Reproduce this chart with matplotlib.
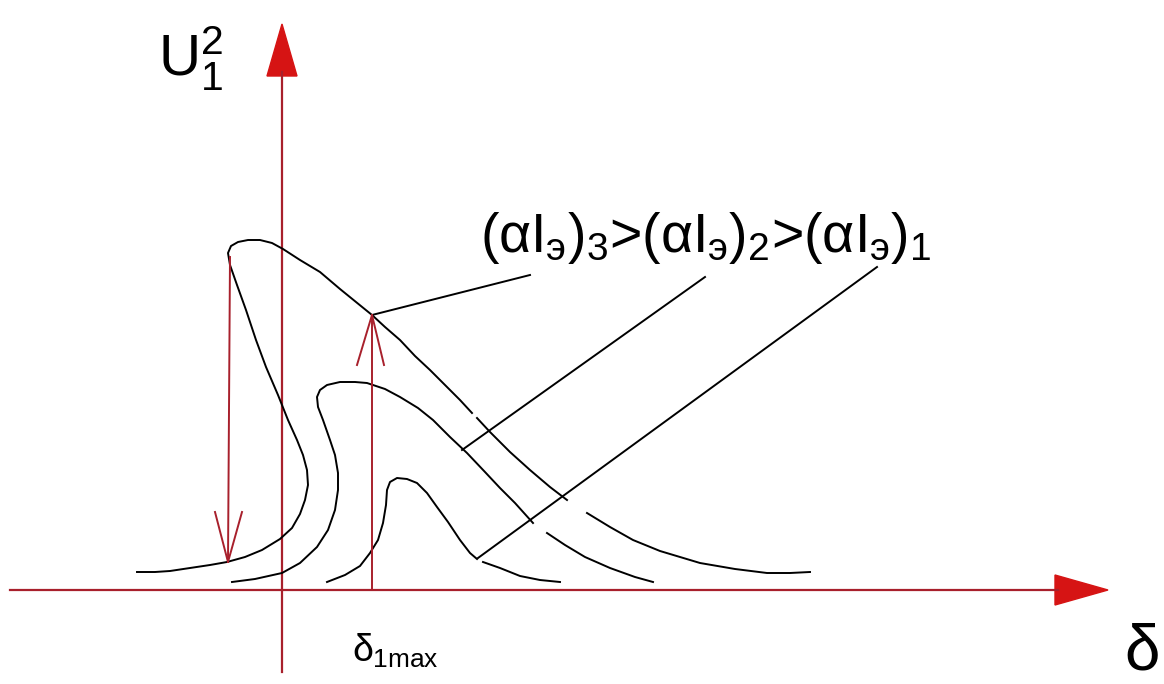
import numpy as np
import matplotlib.pyplot as plt
from matplotlib.patches import Polygon

plt.rcParams['mathtext.fontset'] = 'custom'
plt.rcParams['mathtext.rm'] = 'Liberation Sans'
plt.rcParams['mathtext.it'] = 'Liberation Sans'
plt.rcParams['mathtext.bf'] = 'Liberation Sans:bold'
plt.rcParams['font.family'] = ['Liberation Sans', 'DejaVu Sans']

nan = np.nan

# curves (x, y in picture units, y grows downward)
curve3_x = [137, 155, 170, 190, 210, 227, 245, 262, 280, 292, 300, 305, 308, 307, 303, 297,
            288, 278, 266, 256, 246, 237, 230, 228, 231, 238, 248, 260, 272, 283, 300, 320,
            340, 356, 372, 385, 400, 415, 430, 445, 460, 472, nan, 477, 490, 510, 530, 550,
            567, nan, 587, 610, 633, 660, 700, 735, 767, 790, 810]
curve3_y = [572, 572, 571, 568, 565, 562, 557, 550, 539, 528, 514, 500, 485, 470, 455, 440,
            420, 395, 367, 340, 310, 285, 265, 253, 246, 242, 240, 240, 243, 249, 260, 272,
            289, 302, 315, 327, 340, 356, 370, 385, 400, 413, nan, 418, 432, 452, 470, 487,
            500, nan, 513, 527, 540, 551, 563, 569, 573, 573, 572]

curve2_x = [232, 255, 282, 300, 317, 328, 335, 338, 338, 335, 330, 323, 318, 317, 320, 327,
            340, 355, 367, 385, 400, 418, 433, 450, 467, 485, 500, 515, 533, nan, 547, 565,
            585, 610, 635, 653]
curve2_y = [582, 579, 573, 563, 547, 530, 510, 490, 473, 455, 440, 420, 407, 397, 390, 385,
            382, 382, 383, 389, 397, 408, 420, 437, 453, 472, 488, 503, 523, nan, 533, 545,
            557, 568, 577, 582]

curve1_x = [327, 345, 360, 370, 378, 383, 386, 387, 390, 397, 407, 417, 427, 437, 448, 460,
            470, 477, nan, 483, 500, 520, 540, 560]
curve1_y = [582, 575, 566, 553, 540, 523, 505, 490, 482, 478, 479, 483, 493, 507, 522, 540,
            553, 559, nan, 562, 568, 576, 580, 582]

# leader lines from the label to each curve
leaders = [((372, 530), (315, 275)),
           ((462, 705), (450, 277)),
           ((478, 877), (558, 267))]

axis_red = '#a8202c'
head_red = '#d61414'

fig = plt.figure(figsize=(11.64, 6.84), dpi=100)
ax = fig.add_axes([0, 0, 1, 1])
ax.set_xlim(0, 1164)
ax.set_ylim(684, 0)
ax.axis('off')

# axes of the diagram
ax.plot([10, 1058], [590, 590], color=axis_red, lw=1.6)
ax.plot([282, 282], [72, 672], color=axis_red, lw=1.6)
ax.add_patch(Polygon([[1108, 590], [1055, 575], [1055, 605]], closed=True, color=head_red))
ax.add_patch(Polygon([[282, 24], [267, 76], [297, 76]], closed=True, color=head_red))

# curves
for cx, cy in [(curve3_x, curve3_y), (curve2_x, curve2_y), (curve1_x, curve1_y)]:
    ax.plot(cx, cy, color='black', lw=1.4)

for lx, ly in leaders:
    ax.plot(lx, ly, color='black', lw=1.4)

# jump arrows
ax.plot([230, 228], [257, 562], color=axis_red, lw=1.4)
ax.plot([215, 228, 242], [512, 562, 512], color=axis_red, lw=1.4)
ax.plot([372, 372], [590, 315], color=axis_red, lw=1.4)
ax.plot([357, 372, 384], [365, 315, 365], color=axis_red, lw=1.4)

# labels
ax.text(158, 76, r'$\mathrm{U}_1^2$', fontsize=42, ha='left', va='baseline')
ax.text(480, 252, r'$(\alpha I_{э})_3$>$(\alpha I_{э})_2$>$(\alpha I_{э})_1$',
        fontsize=40, ha='left', va='baseline')
ax.text(352, 662, r'$\delta_{1max}$', fontsize=27, ha='left', va='baseline')
ax.text(1160, 670, 'δ', fontsize=46, ha='right', va='baseline')

fig.savefig('out.png', dpi=100)
